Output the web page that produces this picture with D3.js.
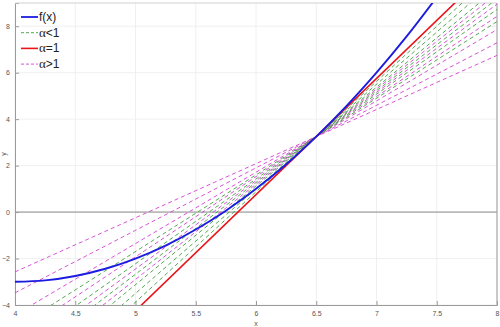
<!DOCTYPE html>
<html>
<head>
<meta charset="utf-8">
<script src="https://cdn.jsdelivr.net/npm/d3@7"></script>
<style>
  html, body { margin: 0; padding: 0; background: #fff; }
  svg { display: block; font-family: "Liberation Sans", Arial, sans-serif; }
</style>
</head>
<body>
<div id="chart"></div>
<script>
// values
const xTicks = [4, 4.5, 5, 5.5, 6, 6.5, 7, 7.5, 8];
const yTicks = [-4, -2, 0, 2, 4, 6, 8];

// f(x), blue curve
const curveX = [4, 4.25, 4.5, 4.75, 5, 5.25, 5.5, 5.75, 6, 6.25, 6.5, 6.75, 7, 7.25, 7.5];
const curveY = [-3, -2.94, -2.75, -2.44, -2, -1.44, -0.75, 0.06, 1, 2.06, 3.25, 4.56, 6, 7.56, 9.25];

// all straight lines go through this point
const pivot = [6.5, 3.25];
const redSlope = 5;
const greenSlopes = [3.3, 3.65, 3.95, 4.25, 4.5, 4.75];
const magentaSlopes = [2.33, 2.69, 3.07, 3.45, 3.8, 4.1];

const legendLabels = ['f(x)', 'α<1', 'α=1', 'α>1'];

const W = 500, H = 327;
const margin = { top: 3, right: 3, bottom: 22, left: 15 };

const svg = d3.select('#chart').append('svg')
    .attr('width', W)
    .attr('height', H);

const x = d3.scaleLinear().domain([4, 8]).range([margin.left, W - margin.right]);
const y = d3.scaleLinear().domain([-4, 9]).range([H - margin.bottom, margin.top]);

svg.append('defs').append('clipPath').attr('id', 'plot-clip')
    .append('rect')
    .attr('x', x(4)).attr('y', y(9))
    .attr('width', x(8) - x(4)).attr('height', y(-4) - y(9));

// grid
svg.append('g')
    .selectAll('line')
    .data(xTicks)
    .enter().append('line')
    .attr('x1', d => x(d)).attr('x2', d => x(d))
    .attr('y1', y(-4)).attr('y2', y(9))
    .attr('stroke', '#ececec').attr('stroke-width', 0.8);

svg.append('g')
    .selectAll('line')
    .data(yTicks)
    .enter().append('line')
    .attr('x1', x(4)).attr('x2', x(8))
    .attr('y1', d => y(d)).attr('y2', d => y(d))
    .attr('stroke', '#ececec').attr('stroke-width', 0.8);

// zero line
svg.append('line')
    .attr('x1', x(4)).attr('x2', x(8))
    .attr('y1', y(0)).attr('y2', y(0))
    .attr('stroke', '#8a8a8a').attr('stroke-width', 1);

// axes (MATLAB-ish, ticks inward)
const xAxis = svg.append('g')
    .attr('transform', `translate(0,${y(-4)})`)
    .call(d3.axisBottom(x).tickValues(xTicks).tickSize(-4).tickPadding(6).tickFormat(d3.format('')));
const yAxis = svg.append('g')
    .attr('transform', `translate(${x(4)},0)`)
    .call(d3.axisLeft(y).tickValues(yTicks).tickSize(-4).tickPadding(5).tickFormat(d3.format('')));

[xAxis, yAxis].forEach(g => {
    g.select('.domain').attr('stroke', '#9a9a9a');
    g.selectAll('.tick line').attr('stroke', '#9a9a9a');
    g.selectAll('.tick text').attr('fill', '#555').attr('font-size', '7px');
});

// top/right box edges
svg.append('line')
    .attr('x1', x(4)).attr('x2', x(8)).attr('y1', y(9)).attr('y2', y(9))
    .attr('stroke', '#d0d0d0').attr('stroke-width', 1);
svg.append('line')
    .attr('x1', x(8)).attr('x2', x(8)).attr('y1', y(9)).attr('y2', y(-4))
    .attr('stroke', '#9a9a9a').attr('stroke-width', 1);

// axis labels
svg.append('text')
    .attr('x', x(6)).attr('y', H - 1)
    .attr('text-anchor', 'middle')
    .attr('font-size', '7px').attr('fill', '#555')
    .text('x');
svg.append('text')
    .attr('transform', `translate(6,${y(2.5)}) rotate(-90)`)
    .attr('text-anchor', 'middle')
    .attr('font-size', '7px').attr('fill', '#555')
    .text('y');

const plot = svg.append('g').attr('clip-path', 'url(#plot-clip)');

function lineEnds(m) {
    return [[4, pivot[1] + m * (4 - pivot[0])], [8, pivot[1] + m * (8 - pivot[0])]];
}
const path = d3.line().x(d => x(d[0])).y(d => y(d[1]));

plot.selectAll('.magenta')
    .data(magentaSlopes)
    .enter().append('path')
    .attr('class', 'magenta')
    .attr('d', m => path(lineEnds(m)))
    .attr('fill', 'none')
    .attr('stroke', '#d23fd2')
    .attr('stroke-width', 0.9)
    .attr('stroke-dasharray', '4,3');

plot.selectAll('.green')
    .data(greenSlopes)
    .enter().append('path')
    .attr('class', 'green')
    .attr('d', m => path(lineEnds(m)))
    .attr('fill', 'none')
    .attr('stroke', '#3f9f3f')
    .attr('stroke-width', 0.9)
    .attr('stroke-dasharray', '4,3');

plot.append('path')
    .attr('d', path(lineEnds(redSlope)))
    .attr('fill', 'none')
    .attr('stroke', '#e8141a')
    .attr('stroke-width', 1.6);

plot.append('path')
    .datum(curveX.map((d, i) => [d, curveY[i]]))
    .attr('d', d3.line().x(d => x(d[0])).y(d => y(d[1])).curve(d3.curveCatmullRom))
    .attr('fill', 'none')
    .attr('stroke', '#1c1ce0')
    .attr('stroke-width', 1.9);

// legend
const legendStyles = [
    { color: '#1c1ce0', width: 1.8, dash: null },
    { color: '#3f9f3f', width: 0.9, dash: '3,2' },
    { color: '#e8141a', width: 1.6, dash: null },
    { color: '#d23fd2', width: 0.9, dash: '3,2' }
];
const legend = svg.append('g');
legendLabels.forEach((label, i) => {
    const ly = 17 + i * 15.7;
    legend.append('line')
        .attr('x1', 21).attr('x2', 38).attr('y1', ly).attr('y2', ly)
        .attr('stroke', legendStyles[i].color)
        .attr('stroke-width', legendStyles[i].width)
        .attr('stroke-dasharray', legendStyles[i].dash);
    const t = legend.append('text')
        .attr('x', 39).attr('y', ly + 4)
        .attr('font-size', '12px').attr('fill', '#222');
    if (label.startsWith('α')) {
        t.append('tspan').attr('font-family', '"Liberation Serif", serif').attr('font-size', '13px').text('α');
        t.append('tspan').text(label.slice(1));
    } else {
        t.text(label);
    }
});
</script>
</body>
</html>
